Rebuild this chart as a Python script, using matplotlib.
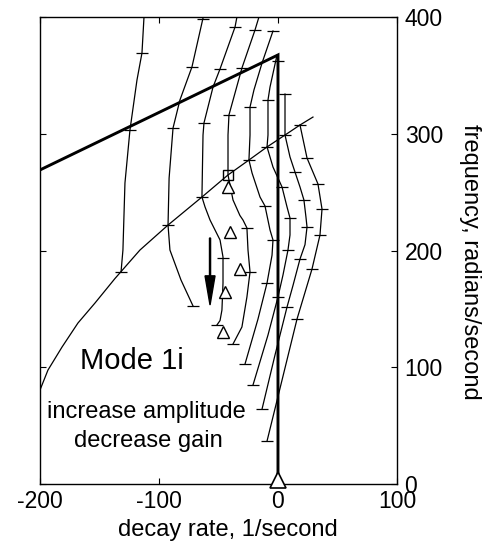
import matplotlib
matplotlib.use("Agg")
import matplotlib.pyplot as plt

plt.rcParams['font.family'] = ['Liberation Sans', 'DejaVu Sans']
plt.rcParams['axes.unicode_minus'] = False

# root loci, one per gain setting (decay rate, frequency)
a_x = [-112.6, -114.3, -118.5, -124.4, -128.6, -130.3, -131.9]
a_y = [400, 369.2, 346.0, 303.2, 257.8, 200.4, 181.6]
a_tx = [-114.3, -124.4, -131.9]
a_ty = [369.2, 303.2, 181.6]

b_x = [-62.8, -72.3, -82.4, -88.2, -91.5, -92.4, -90.8, -81.5, -71.4]
b_y = [400, 357.2, 328.9, 304.9, 262, 221.8, 200.4, 174.7, 152.5]
b_tx = [-63.0, -72.3, -88.2, -92.4, -71.4]
b_ty = [398.3, 357.2, 304.9, 221.8, 152.5]

c_x = [-34.5, -36.1, -48.7, -54.6, -62.2, -63.0, -63.5, -63.9, -61.3, -57.1,
       -48.7, -46.2, -46.2, -47.1, -48.7, -51.3]
c_y = [400, 391.4, 355.5, 340, 309.2, 298.9, 270, 245.8, 237.3, 226.1,
       209, 194.4, 172.2, 149, 140, 136.2]
c_tx = [-36.1, -48.7, -62.2, -63.9, -46.2, -51.3]
c_ty = [391.4, 355.5, 309.2, 245.8, 193.5, 136.2]

d_x = [-16.0, -19.3, -30.3, -41.2, -42.0, -42.0, -37.8, -32.0, -29.4, -26.1,
       -25.2, -23.5, -26.1, -30.3, -37.8]
d_y = [400, 388.9, 356.3, 316.1, 298.9, 264.7, 243.3, 230, 226.1, 219.3,
       200.4, 181.6, 160.2, 134.5, 119.9]
d_tx = [-19.3, -30.3, -41.2, -26.1, -23.5, -37.8]
d_ty = [388.9, 356.3, 316.1, 219.3, 181.6, 119.9]

e_x = [-4.2, -13.4, -20.2, -23.5, -23.5, -24.4, -21.8, -15.1, -10.9, -6.7,
       -4.2, -5.0, -9.2, -16.8, -27.7]
e_y = [388.0, 360.6, 337.5, 322.9, 298.9, 277.5, 266.4, 245.8, 238.1, 217.6,
       209.0, 196, 172.2, 141.3, 102.8]
e_tx = [-4.2, -23.5, -24.4, -10.9, -4.2, -9.2, -27.7]
e_ty = [388.0, 322.9, 277.5, 238.1, 209.0, 172.2, 102.8]

f_x = [-0.8, -6.7, -8.4, -8.4, -9.2, -4.2, 3.4, 7.6, 10.1, 10.1, 8.4, 4.2,
       0.0, -8.4, -21.0]
f_y = [367.5, 340, 328.9, 298.9, 288.7, 271.5, 254.4, 237.3, 227.8, 213.3,
       200.4, 179, 160.2, 127.6, 84.8]
f_tx = [-8.4, -9.2, 3.4, 10.1, 8.4, 0.0, -21.0]
f_ty = [328.9, 288.7, 254.4, 227.8, 200.4, 160.2, 84.8]

g_x = [5.9, 5.9, 10.1, 14.3, 18.5, 21.8, 23.5, 24.4, 22.7, 18.5, 12.6, 7.6,
       -2.5, -13.4]
g_y = [334.0, 298.9, 280.1, 267.2, 254.4, 243.3, 228.7, 220.1, 205, 192.7,
       170, 151.6, 110.5, 64.2]
g_tx = [5.9, 5.9, 14.3, 21.8, 24.4, 18.5, 7.6, -13.4]
g_ty = [334.0, 298.9, 267.2, 243.3, 220.1, 192.7, 151.6, 64.2]

h_x = [18.5, 24.4, 33.6, 37.0, 35.3, 28.6, 16.0, 3.4, -9.2]
h_y = [307.5, 279.2, 257.0, 235.5, 213.3, 184.2, 141.3, 89, 36.8]
h_tx = [18.5, 24.4, 33.6, 37.0, 35.3, 28.6, 16.0, -9.2]
h_ty = [307.5, 279.2, 257.0, 235.5, 213.3, 184.2, 141.3, 36.8]

loci = [(a_x, a_y, a_tx, a_ty), (b_x, b_y, b_tx, b_ty), (c_x, c_y, c_tx, c_ty),
        (d_x, d_y, d_tx, d_ty), (e_x, e_y, e_tx, e_ty), (f_x, f_y, f_tx, f_ty),
        (g_x, g_y, g_tx, g_ty), (h_x, h_y, h_tx, h_ty)]

# thin locus across the gain curves
thin_x = [-200, -193.3, -181.5, -168.1, -153.8, -137.0, -116, -92.4, -63.9,
          -42, -24.4, -9.2, 5.9, 18.5, 29.4]
thin_y = [80.5, 97.6, 117.3, 137.9, 155, 176, 200.4, 221.8, 245.8,
          264.7, 277.5, 288.7, 298.9, 307.5, 314.3]

# thick locus
thick_x = [-200, 0, 0]
thick_y = [269, 367.5, 0]
thick_tx = [0]
thick_ty = [362]

# markers
tri_x = [-42.0, -40.3, -31.9, -44.5, -46.2]
tri_y = [254.4, 215.8, 184.2, 164.5, 130.2]
sq_x = [-42.0]
sq_y = [264.7]

fig = plt.figure(figsize=(4.83, 5.45), dpi=100)
ax = fig.add_axes([0.0828, 0.1119, 0.7391, 0.8569])

for lx, ly, tx, ty in loci:
    ax.plot(lx, ly, color='k', lw=0.9)
    ax.plot(tx, ty, ls='none', marker='_', ms=8, mew=0.9, color='k')

ax.plot(thin_x, thin_y, color='k', lw=0.9)
ax.plot(thick_x, thick_y, color='k', lw=2.1, solid_joinstyle='miter')
ax.plot(thick_tx, thick_ty, ls='none', marker='_', ms=8, mew=0.9, color='k')

ax.plot(tri_x, tri_y, ls='none', marker='^', ms=8.5, mew=1.0, mfc='white', mec='k')
ax.plot(sq_x, sq_y, ls='none', marker='s', ms=7, mew=1.0, mfc='none', mec='k')
ax.plot([0], [3.5], ls='none', marker='^', ms=12, mew=1.2, mfc='white', mec='k',
        clip_on=False, zorder=5)

ax.arrow(-57.1, 210.7, 0, -57.4, width=0.9, head_width=8.4, head_length=25,
         length_includes_head=True, fc='k', ec='k')

ax.text(-122.7, 98.5, 'Mode 1i', fontsize=21, ha='center', va='baseline')
ax.text(-110.9, 56.5, 'increase amplitude', fontsize=17, ha='center', va='baseline')
ax.text(-109.2, 31.7, 'decrease gain', fontsize=17, ha='center', va='baseline')

ax.set_xlim(-200, 100)
ax.set_ylim(0, 400)
ax.set_xticks([-200, -100, 0, 100])
ax.set_yticks([0, 100, 200, 300, 400])
ax.tick_params(direction='in', length=4, width=0.8, top=True, right=True,
               left=True, labelleft=False, labelright=True, labelsize=16.5)
ax.tick_params(axis='x', pad=4.5)
ax.tick_params(axis='y', pad=5.5)
for s in ax.spines.values():
    s.set_linewidth(1.0)

ax.set_xlabel('decay rate, 1/second', fontsize=17, va='baseline')
ax.xaxis.set_label_coords(0.525, -0.111)
ax.yaxis.set_label_position('right')
ax.set_ylabel('frequency, radians/second', fontsize=17, rotation=-90,
              va='center', ha='center')
ax.yaxis.set_label_coords(1.2045, 0.475)

fig.savefig('out.png', dpi=100)
